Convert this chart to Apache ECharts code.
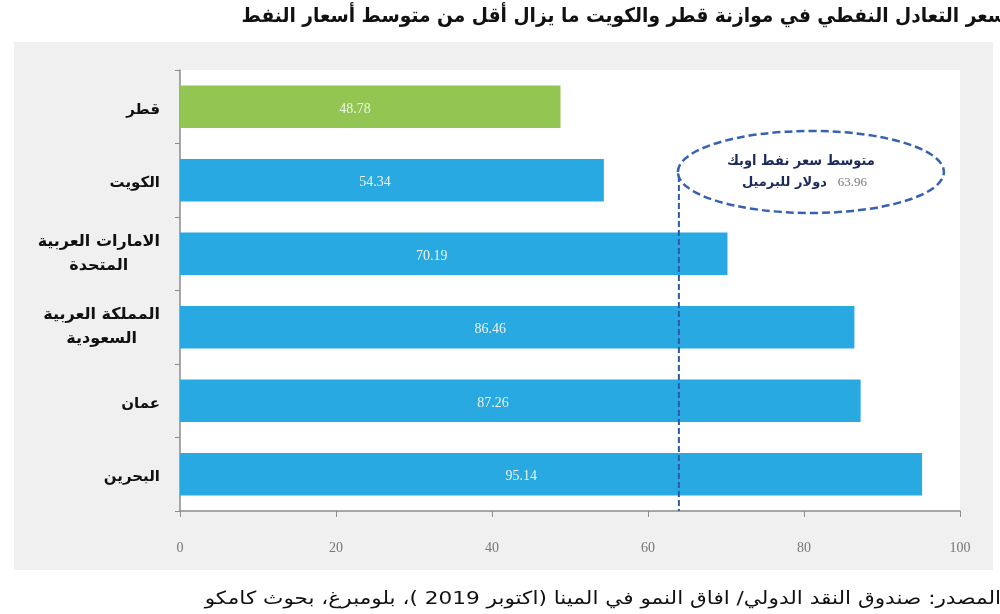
<!DOCTYPE html>
<html><head><meta charset="utf-8">
<script src="https://cdn.jsdelivr.net/npm/echarts@6/dist/echarts.min.js"></script>
<style>html,body{margin:0;padding:0;background:#fff}#c{width:1000px;height:614px}</style>
</head><body><div id="c" dir="rtl"></div>
<script>
// ---- data ----
const categories = ['قطر', 'الكويت', 'الامارات العربية\nالمتحدة', 'المملكة العربية\nالسعودية', 'عمان', 'البحرين'];
const values = [48.78, 54.34, 70.19, 86.46, 87.26, 95.14];
const barColors = ['#93c552', '#29a9e1', '#29a9e1', '#29a9e1', '#29a9e1', '#29a9e1'];
const opecAverage = 63.96;
const xMin = 0, xMax = 100, xInterval = 20;
const titleText = 'سعر التعادل النفطي في موازنة قطر والكويت ما يزال أقل من متوسط أسعار النفط';
const sourceText = 'المصدر: صندوق النقد الدولي/ افاق النمو في المينا (اكتوبر 2019 )، بلومبرغ، بحوث كامكو';
const avgLabelLine1 = 'متوسط سعر نفط اوبك';
const avgLabelLine2 = 'دولار للبرميل';

const chart = echarts.init(document.getElementById('c'), null, {renderer: 'canvas'});
const arabicFont = '"DejaVu Sans", sans-serif';
const serifFont = '"Liberation Serif", "DejaVu Serif", serif';

const option = {
  backgroundColor: '#ffffff',
  animation: false,
  grid: {left: 180, right: 40, top: 70, bottom: 103, show: true, backgroundColor: '#ffffff', borderWidth: 0},
  xAxis: {
    type: 'value', min: xMin, max: xMax, interval: xInterval,
    splitLine: {show: false},
    axisLine: {show: true, lineStyle: {color: '#8c8c8c', width: 1.5}},
    axisTick: {show: true, length: 6, lineStyle: {color: '#8c8c8c'}},
    axisLabel: {margin: 30, fontFamily: serifFont, fontSize: 14, color: '#777'}
  },
  yAxis: {
    type: 'category', data: categories, inverse: true,
    axisLine: {show: true, lineStyle: {color: '#8c8c8c', width: 1.5}},
    axisTick: {show: true, length: 5, lineStyle: {color: '#8c8c8c'}},
    axisLabel: {
      margin: 20,
      formatter: function (v) {
        if (v.indexOf('\n') >= 0) return v.split('\n').map(s => '{c|' + s + '}').join('\n');
        return '{r|' + v + '}';
      },
      rich: {
        c: {align: 'center', fontFamily: arabicFont, fontWeight: 'bold', fontSize: 16, color: '#111', lineHeight: 24},
        r: {align: 'right', fontFamily: arabicFont, fontWeight: 'bold', fontSize: 15, color: '#111', lineHeight: 24, padding: [6, 0, 0, 0]}
      }
    }
  },
  series: [{
    type: 'bar',
    data: values.map((v, i) => ({value: v, itemStyle: {color: barColors[i]}})),
    barCategoryGap: '42%',
    label: {
      show: true, position: ['46%', '55%'], align: 'center', verticalAlign: 'middle',
      fontFamily: serifFont, fontSize: 14, color: '#eef3e8',
      formatter: p => p.value.toFixed(2)
    }
  }],
  graphic: []
};
chart.setOption(option);

const lineX = chart.convertToPixel({xAxisIndex: 0}, opecAverage);
const gridRect = chart.getModel().getComponent('grid').coordinateSystem.getRect();
const axisY = gridRect.y + gridRect.height;
const ecx = lineX + 132, ecy = 172;

chart.setOption({
  graphic: [
    {type: 'rect', z: -10, silent: true, shape: {x: 14, y: 42, width: 979, height: 528}, style: {fill: '#f0f0f0'}},
    {type: 'rect', z: -9, silent: true, shape: {x: gridRect.x, y: gridRect.y, width: gridRect.width, height: gridRect.height}, style: {fill: '#ffffff'}},
    {type: 'line', z: 10, silent: true, shape: {x1: lineX, y1: ecy + 4, x2: lineX, y2: axisY}, style: {stroke: '#2f5aa8', lineWidth: 2, lineDash: [6, 3]}},
    {type: 'ellipse', z: 11, silent: true, shape: {cx: ecx, cy: ecy, rx: 133, ry: 41}, style: {fill: '#ffffff', stroke: '#3562b3', lineWidth: 2.5, lineDash: [8, 4]}},
    {type: 'text', z: 12, silent: true, x: ecx + 64, y: 161, scaleX: 0.93, style: {x: 0, y: 0, text: avgLabelLine1, align: 'right', verticalAlign: 'middle', font: 'bold 14px ' + arabicFont, fill: '#1d2a5c'}},
    {type: 'text', z: 12, silent: true, x: ecx + 16, y: 183, style: {x: 0, y: 0, text: avgLabelLine2, align: 'right', verticalAlign: 'middle', font: 'bold 13px ' + arabicFont, fill: '#1d2a5c'}},
    {type: 'text', z: 12, silent: true, x: ecx + 56, y: 183, style: {x: 0, y: 0, text: opecAverage.toFixed(2), align: 'right', verticalAlign: 'middle', font: '13px ' + serifFont, fill: '#777'}},
    {type: 'text', z: 12, silent: true, x: 1006, y: 17, scaleX: 0.93, style: {x: 0, y: 0, text: titleText, align: 'right', verticalAlign: 'middle', font: 'bold 20px ' + arabicFont, fill: '#111'}},
    {type: 'text', z: 12, silent: true, x: 1001, y: 599, scaleX: 1.2, style: {x: 0, y: 0, text: sourceText, align: 'right', verticalAlign: 'middle', font: '18px ' + arabicFont, fill: '#111'}}
  ]
});
</script></body></html>
